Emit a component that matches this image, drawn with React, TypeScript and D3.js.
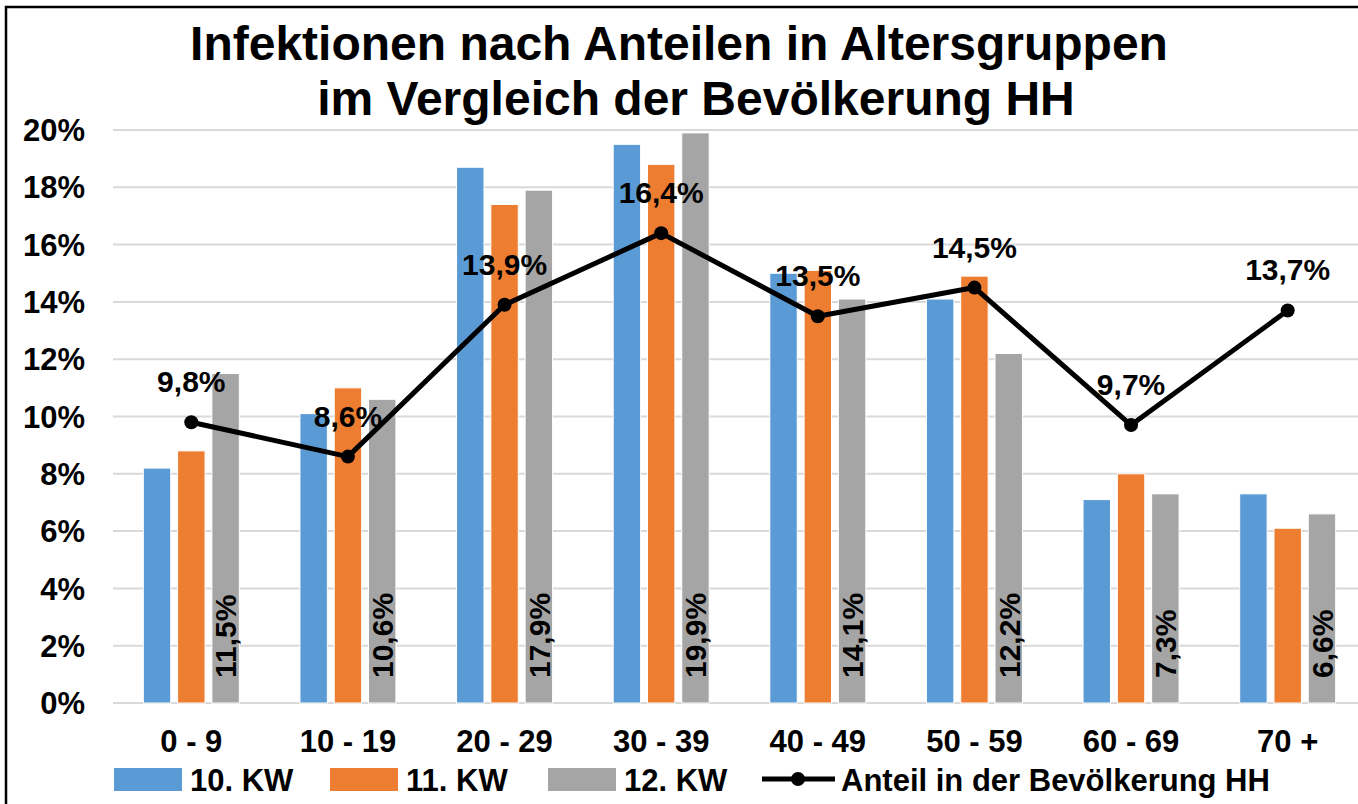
import React from 'react';
import * as d3 from 'd3';

const categories = ['0 - 9', '10 - 19', '20 - 29', '30 - 39', '40 - 49', '50 - 59', '60 - 69', '70 +'];
const seriesNames = ['10. KW', '11. KW', '12. KW'];
const kw10 = [8.2, 10.1, 18.7, 19.5, 15.0, 14.1, 7.1, 7.3];
const kw11 = [8.8, 11.0, 17.4, 18.8, 15.1, 14.9, 8.0, 6.1];
const kw12 = [11.5, 10.6, 17.9, 19.9, 14.1, 12.2, 7.3, 6.6];
const population = [9.8, 8.6, 13.9, 16.4, 13.5, 14.5, 9.7, 13.7];
const yTicks = [0, 2, 4, 6, 8, 10, 12, 14, 16, 18, 20];
const lineName = 'Anteil in der Bevölkerung HH';

const colors = ['#5b9bd5', '#ed7d31', '#a5a5a5'];
const font = '"Liberation Sans", Arial, sans-serif';
const fmt = (v: number) => v.toFixed(1).replace('.', ',') + '%';

const W = 1358;
const H = 804;

export default function App() {
  const series = [kw10, kw11, kw12];

  const x = d3.scaleBand<string>().domain(categories).range([113, 1366]);
  const xs = d3.scaleBand<string>().domain(seriesNames).range([-48, 48]).paddingInner(0.2);
  const y = d3.scaleLinear().domain([0, 20]).range([703, 130]);

  const cx = (i: number) => (x(categories[i]) as number) + x.bandwidth() / 2;

  const line = d3.line<number>()
    .x((_, i) => cx(i))
    .y(d => y(d));

  return (
    <svg width={W} height={H} style={{ position: 'absolute', left: 0, top: 0, background: '#fff' }}
      fontFamily={font} fontWeight="bold">
      <rect x={0} y={0} width={W} height={H} fill="#fff" />
      <rect x={6} y={7} width={W + 20} height={H + 20} fill="none" stroke="#000" strokeWidth={2.5} />

      {/* title */}
      <text x={679} y={60} textAnchor="middle" fontSize={48}>Infektionen nach Anteilen in Altersgruppen</text>
      <text x={696} y={115} textAnchor="middle" fontSize={48}>im Vergleich der Bevölkerung HH</text>

      {/* grid + y ticks */}
      {yTicks.map(t => (
        <g key={t}>
          <line x1={113} x2={W} y1={y(t)} y2={y(t)} stroke="#d9d9d9" strokeWidth={2} />
          <text x={85} y={y(t)} dy="0.36em" textAnchor="end" fontSize={31}>{t}%</text>
        </g>
      ))}

      {/* bars */}
      {series.map((vals, s) => (
        <g key={s}>
          {vals.map((v, i) => (
            <rect key={i}
              x={cx(i) + (xs(seriesNames[s]) as number)}
              y={y(v)}
              width={xs.bandwidth()}
              height={y(0) - y(v)}
              fill={colors[s]}
              stroke="#fff"
              strokeWidth={1} />
          ))}
        </g>
      ))}

      {/* rotated labels on 12. KW */}
      {kw12.map((v, i) => {
        const bx = cx(i) + (xs(seriesNames[2]) as number) + xs.bandwidth() / 2;
        return (
          <text key={i} transform={`translate(${bx},${y(0) - 25}) rotate(-90)`} dy="0.36em" fontSize={30}>
            {fmt(v)}
          </text>
        );
      })}

      {/* population line */}
      <path d={line(population) as string} fill="none" stroke="#000" strokeWidth={5} strokeLinejoin="round" />
      {population.map((v, i) => (
        <circle key={i} cx={cx(i)} cy={y(v)} r={7} fill="#000" />
      ))}
      {population.map((v, i) => (
        <text key={i} x={cx(i)} y={y(v) - 30} textAnchor="middle" fontSize={30}>{fmt(v)}</text>
      ))}

      {/* x labels */}
      {categories.map((c, i) => (
        <text key={c} x={cx(i)} y={752} textAnchor="middle" fontSize={31}>{c}</text>
      ))}

      {/* legend */}
      {seriesNames.map((n, s) => {
        const lx = [114, 330, 548][s];
        return (
          <g key={n}>
            <rect x={lx} y={768} width={68} height={23} fill={colors[s]} />
            <text x={lx + 76} y={791} fontSize={31}>{n}</text>
          </g>
        );
      })}
      <line x1={762} x2={835} y1={779} y2={779} stroke="#000" strokeWidth={5} />
      <circle cx={798} cy={779} r={7} fill="#000" />
      <text x={841} y={791} fontSize={31}>{lineName}</text>
    </svg>
  );
}
